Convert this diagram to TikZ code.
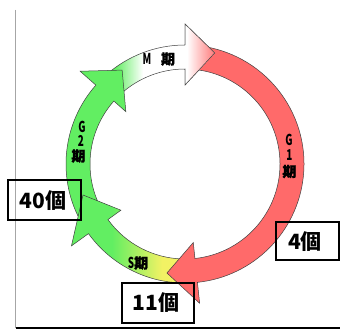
\documentclass[tikz,border=0pt]{standalone}
\usepackage{fontspec}
\usepackage{graphicx}
\newfontfamily\jp{Noto Sans CJK JP}
\newfontfamily\jpheavy{Noto Sans CJK JP}[BoldFeatures={FakeBold=1.6}]
\definecolor{cycred}{HTML}{FF6A6A}
\definecolor{cycgreen}{HTML}{62EE62}
\definecolor{cycyellow}{HTML}{F2F264}
% one segment of the ring: shaft from angle #1 to #2, head tip at angle #3, radius #4
\newcommand\ringarrow[4]{(#1:119) arc[start angle=#1, end angle=#2, radius=119]
  -- (#2:140) -- (#3:#4) -- (#2:79) -- (#2:95)
  arc[start angle=#2, end angle=#1, radius=95] -- cycle}
\newcommand\narrow[1]{\scalebox{0.66}[1]{#1}}
\begin{document}
\begin{tikzpicture}[x=1pt,y=1pt]
\tikzset{
  outline/.style={draw=black!75, line width=0.5pt, line join=miter},
  countbox/.style={draw=black, line width=1.1pt, fill=none},
  counttext/.style={font=\jp\bfseries\fontsize{21}{21}\selectfont, inner sep=0pt},
  phase/.style={font=\jpheavy\bfseries\fontsize{14}{14}\selectfont, inner sep=0pt,
    text height=11pt, text depth=0.5pt},
  latin/.style={font=\jp\bfseries\fontsize{15}{15}\selectfont, inner sep=0pt,
    text height=10.5pt, text depth=0pt},
}
\useasboundingbox (0,0) rectangle (340,329);
\fill[white] (0,0) rectangle (340,329);

% frame lines
\coordinate (ftop) at (15.5,319);
\coordinate (fcorner) at (15.5,1);
\coordinate (fright) at (340,1);
\draw[black!35, line width=1.6pt] (ftop) -- (fcorner);
\draw[black, line width=1.5pt] (fcorner) -- (fright);

\begin{scope}[shift={(185,165)}]
  % M phase (white, fading from green at the tail, pink at the tip)
  \begin{scope}
    \clip \ringarrow{132}{90}{75}{115};
    \fill[white] (-130,-10) rectangle (60,150);
    \fill[cycgreen] (-130,-10) rectangle (-70,150);
    \shade[left color=cycgreen, right color=white] (-70,-10) rectangle (-42,150);
    \shade[left color=white, right color=cycred!90] (2,-10) rectangle (30,150);
  \end{scope}
  \draw[outline] \ringarrow{132}{90}{75}{115};

  % G2 phase
  \fill[cycgreen] \ringarrow{-150}{-221.5}{-236.2}{113};
  \draw[outline] \ringarrow{-150}{-221.5}{-236.2}{113};

  % S phase (yellow to green)
  \begin{scope}
    \clip \ringarrow{-91}{-144.2}{-163.1}{106.6};
    \fill[cycgreen] (-150,-160) rectangle (-73,0);
    \shade[left color=cycgreen, right color=cycyellow] (-73,-160) rectangle (-23,0);
    \fill[cycyellow] (-23,-160) rectangle (30,0);
  \end{scope}
  \draw[outline] \ringarrow{-91}{-144.2}{-163.1}{106.6};

  % G1 phase
  \fill[cycred] \ringarrow{84}{-84}{-99.4}{110.5};
  \draw[outline] \ringarrow{84}{-84}{-99.4}{110.5};

  % M phase head again, over the tail of G1
  \begin{scope}
    \clip (-1,0) rectangle (60,160);
    \begin{scope}
      \clip \ringarrow{132}{90}{75}{115};
      \fill[white] (-1,-10) rectangle (60,150);
      \shade[left color=white, right color=cycred!90] (2,-10) rectangle (30,150);
    \end{scope}
    \draw[outline] \ringarrow{132}{90}{75}{115};
  \end{scope}
\end{scope}

% phase labels
\node[latin] (mM) at (147,270) {\narrow{M}};
\node[phase] (mK) at (168,270) {期};
\node[latin] (g1G) at (289,189) {\narrow{G}};
\node[latin] (g1N) at (289.5,174) {\narrow{1}};
\node[phase] (g1K) at (289.5,157.5) {期};
\node[latin] (g2G) at (82,201.5) {\narrow{G}};
\node[latin] (g2N) at (81,187.5) {\narrow{2}};
\node[phase] (g2K) at (78.5,173) {期};
\node[latin, anchor=east] (sS) at (134.5,66) {\narrow{S}};
\node[phase, anchor=west] (sK) at (134,66) {期};

% counts
\draw[countbox] (8,109) rectangle (81,149);
\node[counttext] (c40) at (43,128.5) {40個};
\draw[countbox] (276,69) rectangle (339,107);
\node[counttext] (c4) at (305,87.5) {4個};
\draw[countbox] (122,6) rectangle (194,46);
\node[counttext] (c11) at (156,26) {11個};
\end{tikzpicture}
\end{document}
